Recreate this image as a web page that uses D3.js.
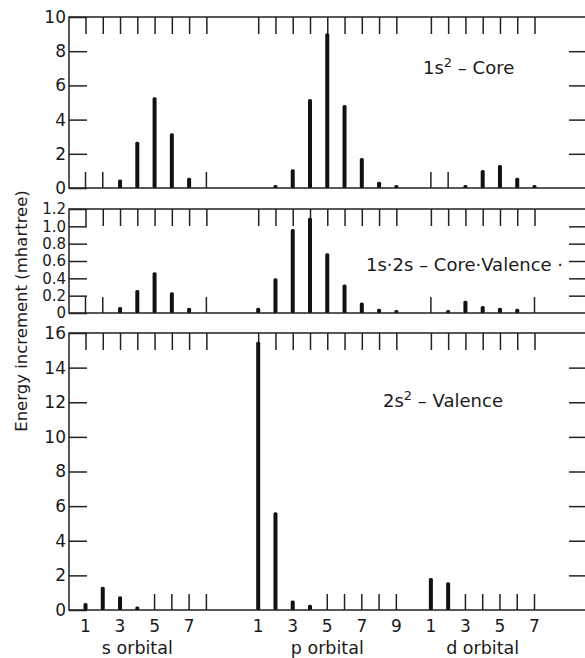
<!DOCTYPE html>
<head>
  <meta charset="utf-8">
  <script src="https://d3js.org/d3.v7.min.js"></script>
  <style>
    body { margin:0; background:#fff; }
    text { font-family: "DejaVu Sans", sans-serif; fill:#1a1a1a; }
  </style>
</head>
<body>
  <script>
    // orbital groups and their slot labels
    var sLabels = [1, 2, 3, 4, 5, 6, 7, 8];
    var pLabels = [1, 2, 3, 4, 5, 6, 7, 8, 9];
    var dLabels = [1, 2, 3, 4, 5, 6, 7];

    // energy increments (mhartree); null = empty slot (thin marker), 0 = nothing drawn
    var coreS = [null, null, 0.5, 2.7, 5.3, 3.2, 0.6, null];
    var coreP = [0, 0.1, 1.1, 5.2, 9.05, 4.85, 1.75, 0.37, 0.05];
    var coreD = [null, null, 0.05, 1.05, 1.35, 0.6, 0.1];

    var cvS = [null, null, 0.07, 0.265, 0.47, 0.24, 0.06, null];
    var cvP = [0.06, 0.40, 0.97, 1.10, 0.69, 0.33, 0.12, 0.05, 0.02];
    var cvD = [null, 0.02, 0.14, 0.08, 0.06, 0.05, null];

    var valS = [0.4, 1.35, 0.8, 0.2, null, null, null, null];
    var valP = [15.5, 5.65, 0.55, 0.3, null, null, null, null, null];
    var valD = [1.85, 1.6, null, null, null, null, null];

    var yTicksCore = [0, 2, 4, 6, 8, 10];
    var yTicksCV = [0, 0.2, 0.4, 0.6, 0.8, 1.0, 1.2];
    var yTicksVal = [0, 2, 4, 6, 8, 10, 12, 14, 16];
    var xLabelVals = [1, 3, 5, 7, 9];

    var width = 585, height = 658;
    var left = 69, right = 592;

    var svg = d3.select('body').append('svg')
      .attr('width', width)
      .attr('height', height);

    // slot index: s at 0..7, p at 10..18, d at 20..26
    function slot(group, n) {
      return group == 's' ? n - 1 : group == 'p' ? 9 + n : 19 + n;
    }
    var x = d3.scaleLinear().domain([0, 26]).range([85.5, 534.5]);

    var allSlots = [];
    sLabels.forEach(n => allSlots.push(slot('s', n)));
    pLabels.forEach(n => allSlots.push(slot('p', n)));
    dLabels.forEach(n => allSlots.push(slot('d', n)));

    var panels = [
      { s: coreS, p: coreP, d: coreD, max: 10, top: 17, bottom: 188, ticks: yTicksCore, fs: 17,
        fmt: d => d, label: ['1s', '2', ' – Core'], lx: 423, ly: 74 },
      { s: cvS, p: cvP, d: cvD, max: 1.2, top: 209, bottom: 313, ticks: yTicksCV, fs: 15,
        fmt: d => d == 0 ? '0' : d3.format('.1f')(d), label: ['1s·2s – Core·Valence ·'], lx: 366, ly: 271 },
      { s: valS, p: valP, d: valD, max: 16, top: 333, bottom: 610, ticks: yTicksVal, fs: 17,
        fmt: d => d, label: ['2s', '2', ' – Valence'], lx: 383, ly: 407 }
    ];

    panels.forEach(function(pn) {
      var y = d3.scaleLinear().domain([0, pn.max]).range([pn.bottom, pn.top]);
      var g = svg.append('g');

      // frame
      g.append('path')
        .attr('d', 'M' + right + ',' + pn.top + 'H' + left + 'V' + pn.bottom + 'H' + right)
        .attr('fill', 'none')
        .attr('stroke', '#222')
        .attr('stroke-width', 1.5);

      // left axis, ticks pointing inward
      var yl = g.append('g')
        .attr('transform', 'translate(' + left + ',0)')
        .call(d3.axisLeft(y).tickValues(pn.ticks).tickSizeInner(-18).tickSizeOuter(0).tickPadding(3).tickFormat(pn.fmt));
      yl.select('.domain').remove();
      yl.selectAll('line').attr('stroke', '#222').attr('stroke-width', 1.5);
      yl.selectAll('text').style('font-size', pn.fs + 'px').attr('fill', '#1a1a1a');

      // right ticks
      var yr = g.append('g')
        .attr('transform', 'translate(586,0)')
        .call(d3.axisRight(y).tickValues(pn.ticks.slice(1, -1)).tickSizeInner(-17).tickSizeOuter(0).tickFormat(''));
      yr.select('.domain').remove();
      yr.selectAll('line').attr('stroke', '#222').attr('stroke-width', 1.5);

      // top ticks at every orbital slot
      var xt = g.append('g')
        .attr('transform', 'translate(0,' + pn.top + ')')
        .call(d3.axisTop(x).tickValues(allSlots).tickSizeInner(-17).tickSizeOuter(0).tickFormat(''));
      xt.select('.domain').remove();
      xt.selectAll('line').attr('stroke', '#222').attr('stroke-width', 1.5);

      var bars = [];
      pn.s.forEach((v, i) => bars.push({ k: slot('s', sLabels[i]), v: v }));
      pn.p.forEach((v, i) => bars.push({ k: slot('p', pLabels[i]), v: v }));
      pn.d.forEach((v, i) => bars.push({ k: slot('d', dLabels[i]), v: v }));

      // empty slots: thin marker lines
      g.selectAll('line.empty')
        .data(bars.filter(d => d.v === null))
        .enter().append('line')
        .attr('class', 'empty')
        .attr('x1', d => x(d.k)).attr('x2', d => x(d.k))
        .attr('y1', pn.bottom).attr('y2', pn.bottom - 16)
        .attr('stroke', '#222')
        .attr('stroke-width', 1.5);

      // energy bars
      g.selectAll('rect.bar')
        .data(bars.filter(d => d.v))
        .enter().append('rect')
        .attr('class', 'bar')
        .attr('x', d => x(d.k) - 2)
        .attr('width', 4)
        .attr('y', d => Math.min(y(d.v), pn.bottom - 3))
        .attr('height', d => Math.max(pn.bottom - y(d.v), 3))
        .attr('rx', 1.5)
        .attr('fill', '#111');

      // panel label
      var t = g.append('text')
        .attr('x', pn.lx)
        .attr('y', pn.ly)
        .style('font-size', '18px');
      t.append('tspan').text(pn.label[0]);
      if (pn.label.length > 1) {
        t.append('tspan').attr('dy', -7).style('font-size', '13px').text(pn.label[1]);
        t.append('tspan').attr('dy', 7).text(pn.label[2]);
      }
    });

    // bottom number labels (odd slots only)
    var xb = [];
    [['s', sLabels], ['p', pLabels], ['d', dLabels]].forEach(function(gr) {
      gr[1].filter(n => xLabelVals.indexOf(n) >= 0).forEach(n => xb.push({ k: slot(gr[0], n), n: n }));
    });
    svg.selectAll('text.xl')
      .data(xb)
      .enter().append('text')
      .attr('class', 'xl')
      .attr('x', d => x(d.k))
      .attr('y', 632)
      .attr('text-anchor', 'middle')
      .style('font-size', '17px')
      .text(d => d.n);

    var groupNames = [['s orbital', slot('s', 4)], ['p orbital', slot('p', 5)], ['d orbital', slot('d', 4)]];
    svg.selectAll('text.gl')
      .data(groupNames)
      .enter().append('text')
      .attr('class', 'gl')
      .attr('x', d => x(d[1]))
      .attr('y', 654)
      .attr('text-anchor', 'middle')
      .style('font-size', '17.5px')
      .text(d => d[0]);

    svg.append('text')
      .attr('transform', 'translate(27,311) rotate(-90)')
      .attr('text-anchor', 'middle')
      .style('font-size', '16.5px')
      .text('Energy increment (mhartree)');
  </script>
</body>
